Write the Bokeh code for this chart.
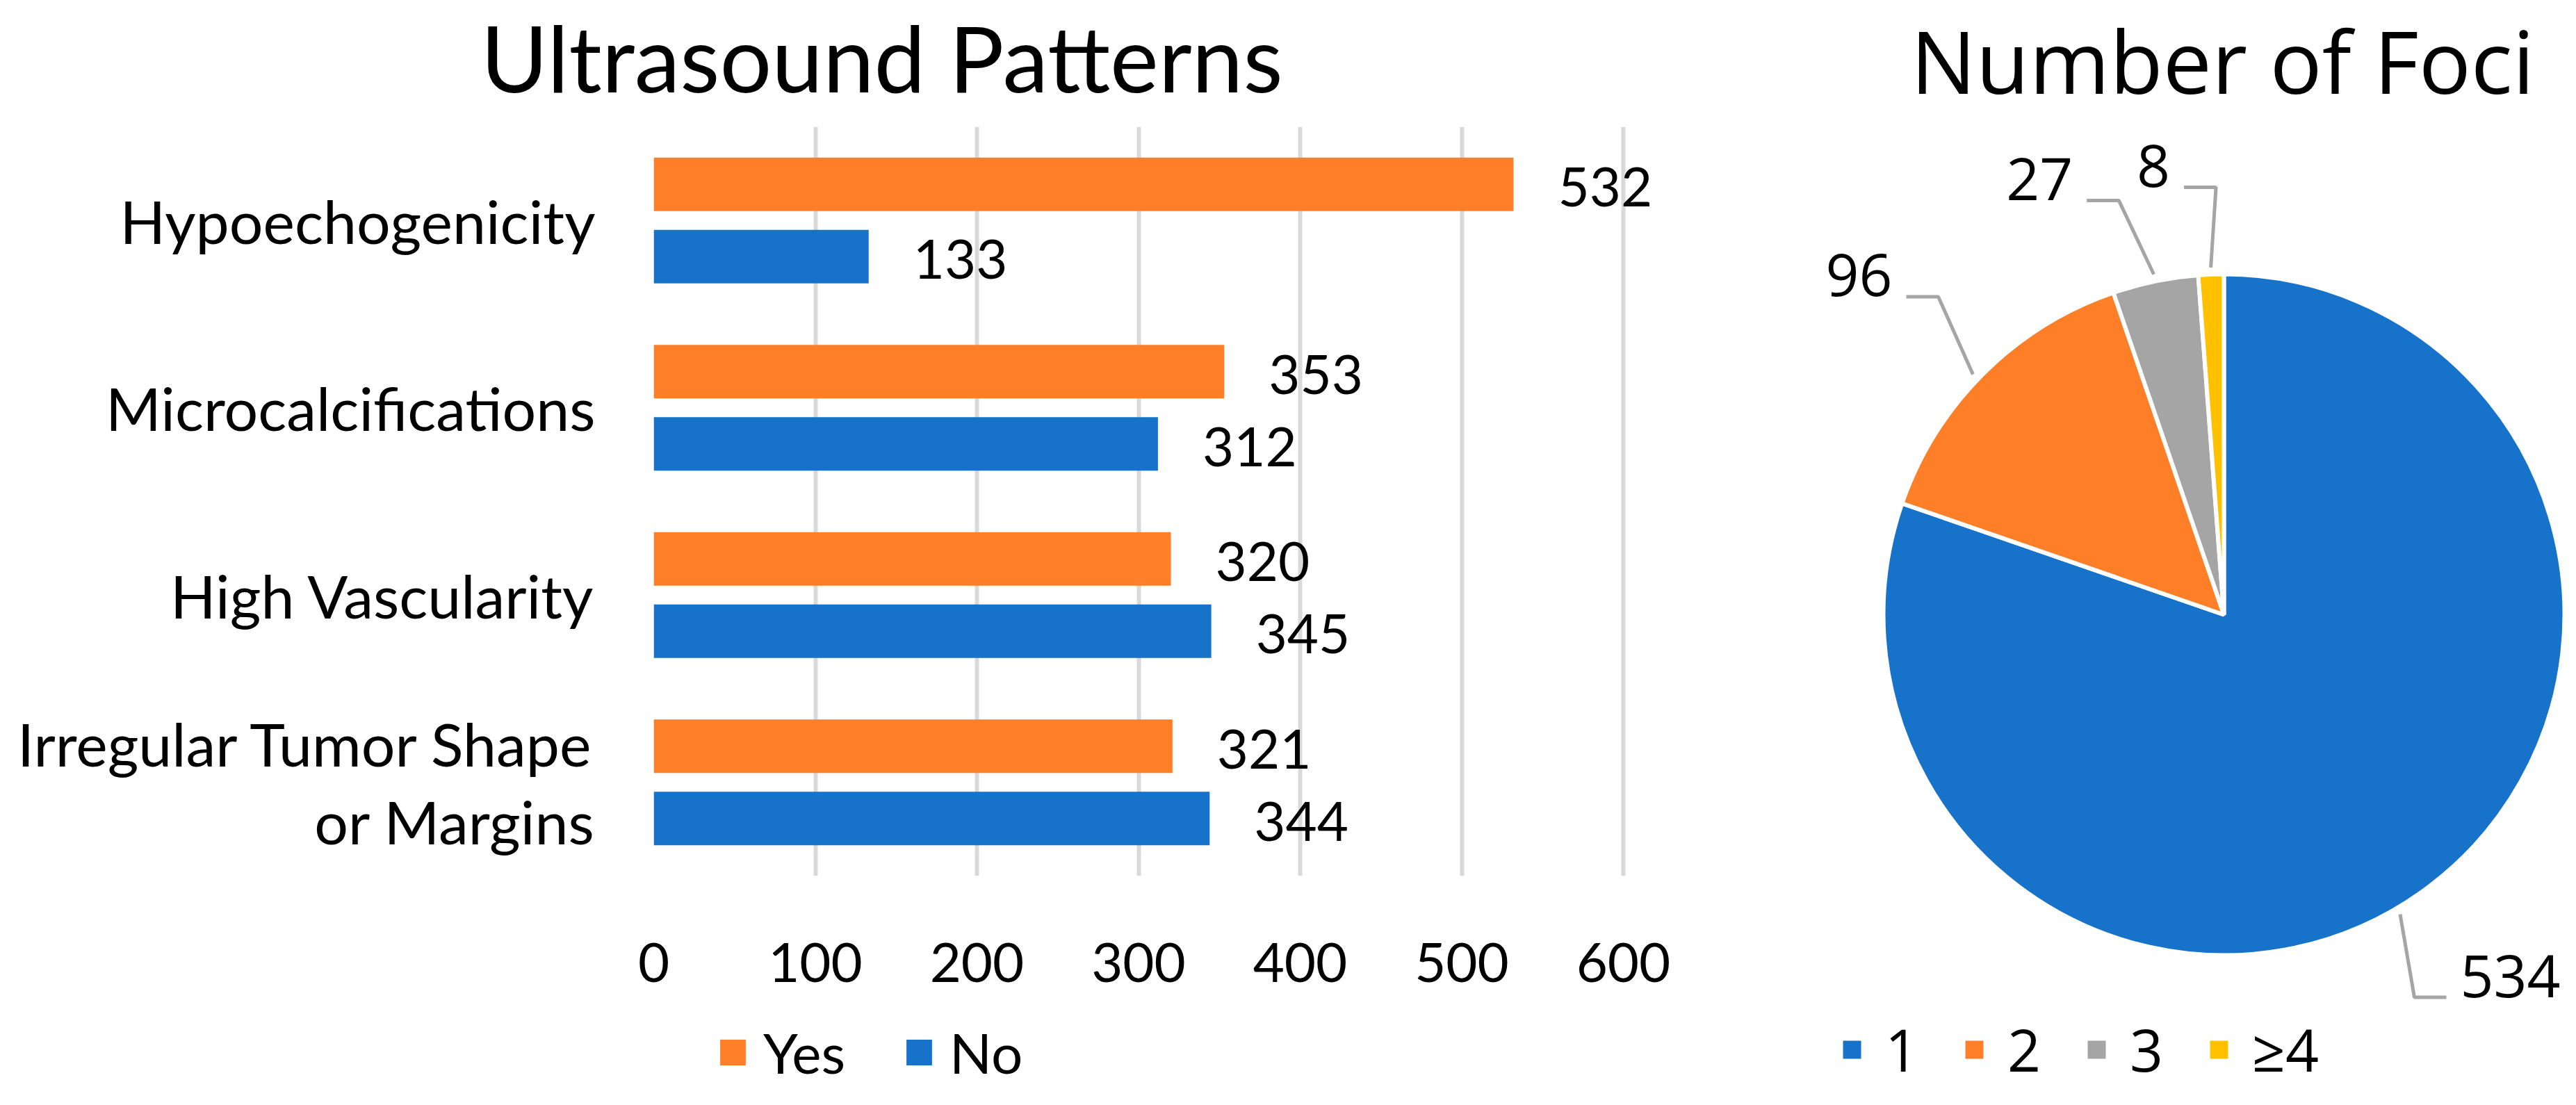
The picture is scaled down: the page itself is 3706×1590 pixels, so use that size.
import math
from bokeh.plotting import figure
from bokeh.models import (ColumnDataSource, Range1d, FixedTicker,
                          Legend, LegendItem, Label)
from bokeh.layouts import row, column
from bokeh.embed import file_html
from bokeh.resources import INLINE
from bokeh.core.properties import value

# ---------------- data ----------------
categories = ["Hypoechogenicity", "Microcalcifications", "High Vascularity",
              "Irregular Tumor Shape\nor Margins"]
yes_counts = [532, 353, 320, 321]
no_counts = [133, 312, 345, 344]
x_ticks = [0, 100, 200, 300, 400, 500, 600]
series_names = ["Yes", "No"]
bar_title = "Ultrasound Patterns"

foci_labels = ["1", "2", "3", "≥4"]
foci_counts = [534, 96, 27, 8]
pie_title = "Number of Foci"

# ---------------- styles ----------------
ORANGE = "#FE7F27"
BLUE = "#1773CA"
GRAY = "#A5A5A5"
YELLOW = "#FFC000"
GRID = "#D9D9D9"
LEFT_FONT = "Lato"
RIGHT_FONT = "Open Sans"
TOTAL_H = 1574
LEFT_W = 2590


def bare_figure(w, h, xr, yr):
    f = figure(width=w, height=h, x_range=xr, y_range=yr,
               x_axis_type=None, y_axis_type=None,
               output_backend="svg", toolbar_location=None,
               min_border_left=0, min_border_right=0,
               min_border_top=0, min_border_bottom=0)
    f.frame_align = False
    f.outline_line_color = None
    f.xgrid.grid_line_color = None
    f.ygrid.grid_line_color = None
    return f


# ---------------- title strip of bar chart ----------------
TITLE_H = 182
titlefig = bare_figure(LEFT_W, TITLE_H, Range1d(0, 1), Range1d(0, 1))
titlefig.add_layout(Label(x=1268, y=TITLE_H - 81, x_units="screen",
                          y_units="screen", text=bar_title,
                          text_align="center", text_baseline="middle",
                          text_font=LEFT_FONT, text_font_size="132px",
                          text_color="black"))

# ---------------- bar chart ----------------
n = len(categories)
FRAME_W = 1650          # px, frame width of bar panel
PX_PER_600 = 1395       # px spanned by 0..600
BAND_PX = 269.5         # px per category band
FRAME_H = n * BAND_PX
P1_H = 1263
cat_pos = [n - i - 0.5 for i in range(n)]
off, bh = 0.193, 0.286
src = ColumnDataSource(dict(
    y_yes=[c + off for c in cat_pos], y_no=[c - off for c in cat_pos],
    yes=yes_counts, no=no_counts,
    yes_lbl=[str(v) for v in yes_counts], no_lbl=[str(v) for v in no_counts]))

p1 = figure(width=LEFT_W, height=P1_H,
            y_range=Range1d(0, n),
            x_range=Range1d(0, 600 * FRAME_W / PX_PER_600),
            output_backend="svg", toolbar_location=None,
            min_border_left=940, min_border_right=0,
            min_border_top=0, min_border_bottom=int(round(P1_H - FRAME_H)))
p1.frame_align = False
p1.outline_line_color = None

r_yes = p1.hbar(y="y_yes", left=0, right="yes", height=bh, source=src,
                fill_color=ORANGE, line_color=None)
r_no = p1.hbar(y="y_no", left=0, right="no", height=bh, source=src,
               fill_color=BLUE, line_color=None)
for xf, yf, tf in (("yes", "y_yes", "yes_lbl"), ("no", "y_no", "no_lbl")):
    p1.text(x=xf, y=yf, text=tf, source=src, x_offset=64, y_offset=4,
            text_align="left", text_baseline="middle",
            text_font=value(LEFT_FONT), text_font_size="78px",
            text_color="black")

p1.xaxis.ticker = FixedTicker(ticks=x_ticks)
p1.xgrid.ticker = FixedTicker(ticks=x_ticks)
p1.xgrid.grid_line_color = GRID
p1.xgrid.grid_line_width = 6
p1.ygrid.grid_line_color = None
p1.yaxis.ticker = FixedTicker(ticks=cat_pos)
p1.yaxis.major_label_overrides = {c: name for c, name in zip(cat_pos, categories)}
for ax in (p1.xaxis[0], p1.yaxis[0]):
    ax.axis_line_color = None
    ax.major_tick_line_color = None
    ax.minor_tick_line_color = None
    ax.major_label_text_font = LEFT_FONT
    ax.major_label_text_color = "black"
p1.xaxis.major_label_text_font_size = "78px"
p1.xaxis.major_label_standoff = 90
p1.yaxis.major_label_text_font_size = "86px"
p1.yaxis.major_label_text_line_height = 1.09
p1.yaxis.major_label_standoff = 78

# ---------------- legend strip of bar chart ----------------
# same bars, in a view placed far away from them; only the legend shows
LEG_H = TOTAL_H - TITLE_H - P1_H
legfig = bare_figure(LEFT_W, LEG_H, Range1d(-5000, -4999), Range1d(-5000, -4999))
d_yes = legfig.hbar(y="y_yes", left=0, right="yes", height=bh, source=src,
                    fill_color=ORANGE, line_color=None)
d_no = legfig.hbar(y="y_no", left=0, right="no", height=bh, source=src,
                   fill_color=BLUE, line_color=None)
leg1 = Legend(items=[LegendItem(label=series_names[0], renderers=[d_yes]),
                     LegendItem(label=series_names[1], renderers=[d_no])],
              orientation="horizontal", location=(1031, 12),
              glyph_width=46, glyph_height=46, label_standoff=21, spacing=83,
              padding=0, margin=0, border_line_color=None,
              background_fill_alpha=0, label_text_font=LEFT_FONT,
              label_text_font_size="80px", label_text_color="black")
legfig.add_layout(leg1)

# ---------------- pie chart ----------------
P2_W = 1100
CX, CY = 609, 690       # pie centre from frame left / bottom, px
R = 490
p2 = bare_figure(P2_W, TOTAL_H, Range1d(-CX, P2_W - CX),
                 Range1d(-CY, TOTAL_H - CY))

total = sum(foci_counts)
starts, ends = [], []
a = math.pi / 2
for v in foci_counts:
    starts.append(a)
    a -= 2 * math.pi * v / total
    ends.append(a)
colors = [BLUE, ORANGE, GRAY, YELLOW]
src2 = ColumnDataSource(dict(label=foci_labels, count=foci_counts,
                             start=starts, end=ends, color=colors))
r_pie = p2.wedge(x=0, y=0, radius=R, start_angle="start", end_angle="end",
                 direction="clock", fill_color="color", line_color="white",
                 line_width=6, source=src2)

# leader lines + labels
start_nudge = [-5, 1.3, 0, 0]   # degrees
elbow_nudge = [-9, -3, 2.6, -1.1]
xs, ys = [], []
tx, ty, talign, ttext = [], [], [], []
for i, v in enumerate(foci_counts):
    mid = (starts[i] + ends[i]) / 2
    a0 = mid + math.radians(start_nudge[i])
    a1 = mid + math.radians(elbow_nudge[i])
    x0, y0 = 500 * math.cos(a0), 500 * math.sin(a0)
    x1, y1 = 615 * math.cos(a1), 615 * math.sin(a1)
    side = 1 if math.cos(a1) > 0 else -1
    x2 = x1 + side * 46
    xs.append([x0, x1, x2])
    ys.append([y0, y1, y1])
    tx.append(x2 + side * 20)
    ty.append(y1)
    talign.append("left" if side > 0 else "right")
    ttext.append(str(v))
p2.multi_line(xs=xs, ys=ys, line_color=GRAY, line_width=5)
p2.text(x=tx, y=ty, text=ttext, text_align=talign, text_baseline="middle",
        y_offset=-31, text_font=value(RIGHT_FONT), text_font_size="84px",
        text_color="black")

leg2 = Legend(items=[LegendItem(label=lab, renderers=[r_pie], index=i)
                     for i, lab in enumerate(foci_labels)],
              orientation="horizontal", location=(54, 7),
              glyph_width=40, glyph_height=40, label_standoff=28, spacing=60,
              padding=0, margin=0, border_line_color=None,
              background_fill_alpha=0, label_text_font=RIGHT_FONT,
              label_text_font_size="84px", label_text_color="black")
p2.add_layout(leg2)

p2.add_layout(Label(x=-2, y=798, text=pie_title, text_align="center",
                    text_baseline="middle", text_font=RIGHT_FONT,
                    text_font_size="125px", text_color="black"))

layout = row(column(titlefig, p1, legfig, spacing=0), p2, spacing=0)
open("out.html", "w").write(file_html(layout, INLINE))
